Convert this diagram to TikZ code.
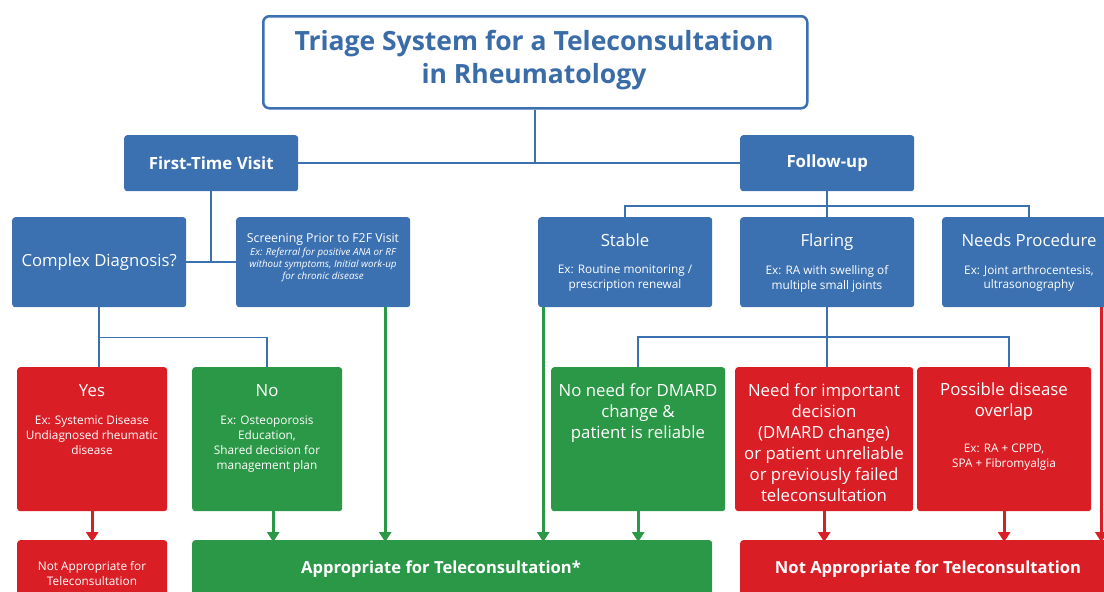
\documentclass[tikz,border=0pt]{standalone}
\usepackage{fontspec}
\setmainfont{Open Sans}
\usetikzlibrary{arrows.meta,calc}
\definecolor{bblue}{RGB}{59,112,177}
\definecolor{tblue}{RGB}{58,108,168}
\definecolor{rred}{RGB}{218,30,38}
\definecolor{ggreen}{RGB}{43,152,71}
\tikzset{
  fillbox/.style={rectangle, rounded corners=3pt, inner sep=0pt, anchor=north west, draw=none, text=white, align=center},
  bluebox/.style={fillbox, fill=bblue},
  redbox/.style={fillbox, fill=rred},
  greenbox/.style={fillbox, fill=ggreen},
  conn/.style={draw=bblue, line width=1.8pt},
  garrow/.style={draw=ggreen, line width=3pt, -{Triangle[width=12pt,length=10pt]}},
  rarrow/.style={draw=rred, line width=3pt, -{Triangle[width=12pt,length=10pt]}},
  head/.style={text=white, font=\fontsize{16.8}{21}\selectfont, align=center, inner sep=0pt, anchor=north},
  bhead/.style={text=white, font=\bfseries\fontsize{16.6}{21}\selectfont, align=center, inner sep=0pt},
  small/.style={text=white, font=\fontsize{11.8}{14.8}\selectfont, align=center, inner sep=0pt, anchor=north},
}
\begin{document}
\begin{tikzpicture}[x=1pt,y=-1pt]
\useasboundingbox (0,0) rectangle (1104,592);
\clip (0,0) rectangle (1104,592);
\fill[white] (0,0) rectangle (1104,592);

% title
\node[draw=bblue, line width=2.5pt, rounded corners=6pt, fill=white, minimum width=544pt, minimum height=92pt, anchor=north west, inner sep=0pt] (title) at (262,15) {};
\node[text=tblue, font=\bfseries\fontsize{26.5}{33}\selectfont, align=center, inner sep=0pt] (titletxt) at (534,60) {Triage System for a Teleconsultation\\in Rheumatology};

% level 1
\node[bluebox, minimum width=174pt, minimum height=56pt, font=\bfseries\fontsize{16.8}{21}\selectfont] (ftv) at (124,135) {First-Time Visit};
\node[bluebox, minimum width=174pt, minimum height=56pt, font=\bfseries\fontsize{16.8}{21}\selectfont] (fu) at (740,135) {Follow-up};

% level 2 left
\node[bluebox, minimum width=174pt, minimum height=90pt, font=\fontsize{16.7}{21}\selectfont] (cd) at (12,217) {Complex Diagnosis?};
\node[bluebox, minimum width=174pt, minimum height=90pt] (scr) at (236,217) {};
\node[text=white, font=\fontsize{12.3}{14}\selectfont, inner sep=0pt, anchor=north] (scrt) at (323,233) {Screening Prior to F2F Visit};
\node[text=white, font=\itshape\fontsize{9.8}{12}\selectfont, align=center, inner sep=0pt, anchor=north] (scrx) at (323,248) {Ex: Referral for positive ANA or RF\\without symptoms, Initial work-up\\for chronic disease};

% level 2 right
\node[bluebox, minimum width=174pt, minimum height=90pt] (st) at (538,217) {};
\node[head] (stt) at (625,234) {Stable};
\node[small] (stx) at (625,265) {Ex: Routine monitoring /\\prescription renewal};
\node[bluebox, minimum width=174pt, minimum height=90pt] (fl) at (740,217) {};
\node[head] (flt) at (827,234) {Flaring};
\node[small] (flx) at (827,265) {Ex: RA with swelling of\\multiple small joints};
\node[bluebox, minimum width=174pt, minimum height=90pt] (np) at (942,217) {};
\node[head] (npt) at (1029,234) {Needs Procedure};
\node[small] (npx) at (1029,265) {Ex: Joint arthrocentesis,\\ultrasonography};

% level 3
\node[redbox, minimum width=150pt, minimum height=144pt] (yes) at (17,367) {};
\node[head] (yest) at (92,384) {Yes};
\node[small] (yesx) at (92,416) {Ex: Systemic Disease\\Undiagnosed rheumatic\\disease};
\node[greenbox, minimum width=150pt, minimum height=144pt] (no) at (192,367) {};
\node[head] (not) at (267,384) {No};
\node[small] (nox) at (267,416) {Ex: Osteoporosis\\Education,\\Shared decision for\\management plan};

\node[greenbox, minimum width=174pt, minimum height=144pt] (nd) at (551,367) {};
\node[head] (ndt) at (638,383) {No need for DMARD\\change \&\\patient is reliable};
\node[redbox, minimum width=178pt, minimum height=144pt] (ni) at (735,367) {};
\node[head] (nit) at (824,383) {Need for important\\decision\\(DMARD change)\\or patient unreliable\\or previously failed\\teleconsultation};
\node[redbox, minimum width=174pt, minimum height=144pt] (po) at (917,367) {};
\node[head] (pot) at (1004,383) {Possible disease\\overlap};
\node[small] (pox) at (1004,444) {Ex: RA + CPPD,\\SPA + Fibromyalgia};

% bottom
\node[redbox, minimum width=150pt, minimum height=60pt] (na1) at (17,540) {};
\node[small] (na1t) at (92,561) {Not Appropriate for\\Teleconsultation};
\node[greenbox, minimum width=520pt, minimum height=60pt] (app) at (192,540) {};
\node[bhead] (appt) at (441,569) {Appropriate for Teleconsultation*};
\node[redbox, minimum width=376pt, minimum height=60pt] (na2) at (740,540) {};
\node[bhead] (na2t) at (928,569) {Not Appropriate for Teleconsultation};

% connectors
\draw[conn] (title.south) -- (title.south |- ftv.east);
\draw[conn] (ftv.east) -- (fu.west);
\draw[conn] (ftv.south) |- (cd.east);
\draw[conn] (cd.east) -- (scr.west);
\draw[conn] (fu.south) -- (fl.north);
\draw[conn] (st.north) -- ++(0,-11) -| (np.north);
\draw[conn] (cd.south) -- (cd.south |- yes.north);
\draw[conn] (cd.south) ++(0,30) -| (no.north);
\draw[conn] (fl.south) -- (fl.south |- ni.north);
\draw[conn] (nd.north) -- ++(0,-30) -| ([xshift=5pt]po.north);

% arrows
\draw[rarrow] (yes.south) -- ([yshift=-2pt]na1.north);
\draw[garrow] ([xshift=6pt]no.south) -- ([xshift=6pt,yshift=-2pt]no.south |- app.north);
\draw[garrow] ([xshift=62pt]scr.south) -- ([xshift=62pt,yshift=-2pt]scr.south |- app.north);
\draw[garrow] ([xshift=-82pt]st.south) -- ([xshift=-82pt,yshift=-2pt]st.south |- app.north);
\draw[garrow] (nd.south) -- ([yshift=-2pt]nd.south |- app.north);
\draw[rarrow] (ni.south) -- ([yshift=-2pt]ni.south |- na2.north);
\draw[rarrow] (po.south) -- ([yshift=-2pt]po.south |- na2.north);
\draw[rarrow] ([xshift=72pt]np.south) -- ([xshift=72pt,yshift=-2pt]np.south |- na2.north);
\end{tikzpicture}
\end{document}
